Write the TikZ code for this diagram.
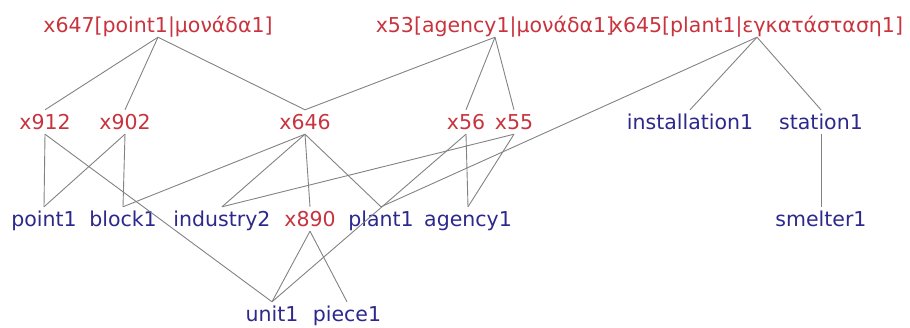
\documentclass[tikz,border=0pt]{standalone}
\usepackage{fontspec}
\setmainfont{DejaVu Sans}
\definecolor{cred}{RGB}{200,52,62}
\definecolor{cblue}{RGB}{44,40,140}
\definecolor{cedge}{RGB}{130,130,130}
\begin{document}
\begin{tikzpicture}[x=1pt,y=-1pt,
  lbl/.style={anchor=base,inner xsep=0pt,inner ysep=5pt,text height=14pt,text depth=0pt,font=\fontsize{20.5}{24}\selectfont},
  rn/.style={lbl,text=cred},
  bn/.style={lbl,text=cblue},
  edge/.style={draw=cedge,line width=0.9pt}]
\useasboundingbox (0,0) rectangle (910,327);
% row 1
\node[rn] (x647) at (158,32) {x647[point1|μονάδα1]};
\node[rn] (x53) at (495,32) {x53[agency1|μονάδα1]};
\node[rn] (x645) at (757,32) {x645[plant1|εγκατάσταση1]};
% row 2
\node[rn] (x912) at (45,129) {x912};
\node[rn] (x902) at (125,129) {x902};
\node[rn] (x646) at (305,129) {x646};
\node[rn] (x56) at (466,129) {x56};
\node[rn] (x55) at (514,129) {x55};
\node[bn] (inst) at (690,129) {installation1};
\node[bn] (stat) at (821,129) {station1};
% row 3
\node[bn] (point) at (44,226) {point1};
\node[bn] (block) at (123,226) {block1};
\node[bn] (ind) at (222,226) {industry2};
\node[rn] (x890) at (310,226) {x890};
\node[bn] (plant) at (381,226) {plant1};
\node[bn] (agency) at (468,226) {agency1};
\node[bn] (smelt) at (821,226) {smelter1};
% row 4
\node[bn] (unit) at (272,321) {unit1};
\node[bn] (piece) at (347,321) {piece1};
% edges
\draw[edge] (x647.south) -- (x912.north);
\draw[edge] (x647.south) -- (x902.north);
\draw[edge] (x647.south) -- (x646.north);
\draw[edge] (x53.south) -- (x646.north);
\draw[edge] (x53.south) -- (x56.north);
\draw[edge] (x53.south) -- (x55.north);
\draw[edge] (x645.south) -- (plant.north);
\draw[edge] (x645.south) -- (inst.north);
\draw[edge] (x645.south) -- (stat.north);
\draw[edge] (x912.south) -- (point.north);
\draw[edge] (x912.south) -- (unit.north);
\draw[edge] (x902.south) -- (point.north);
\draw[edge] (x902.south) -- (block.north);
\draw[edge] (x646.south) -- (block.north);
\draw[edge] (x646.south) -- (ind.north);
\draw[edge] (x646.south) -- (x890.north);
\draw[edge] (x646.south) -- (plant.north);
\draw[edge] (x56.south) -- (agency.north);
\draw[edge] (x56.south) -- (unit.north);
\draw[edge] (x55.south) -- (agency.north);
\draw[edge] (x55.south) -- (ind.north);
\draw[edge] (stat.south) -- (smelt.north);
\draw[edge] (x890.south) -- (unit.north);
\draw[edge] (x890.south) -- (piece.north);
\end{tikzpicture}
\end{document}
